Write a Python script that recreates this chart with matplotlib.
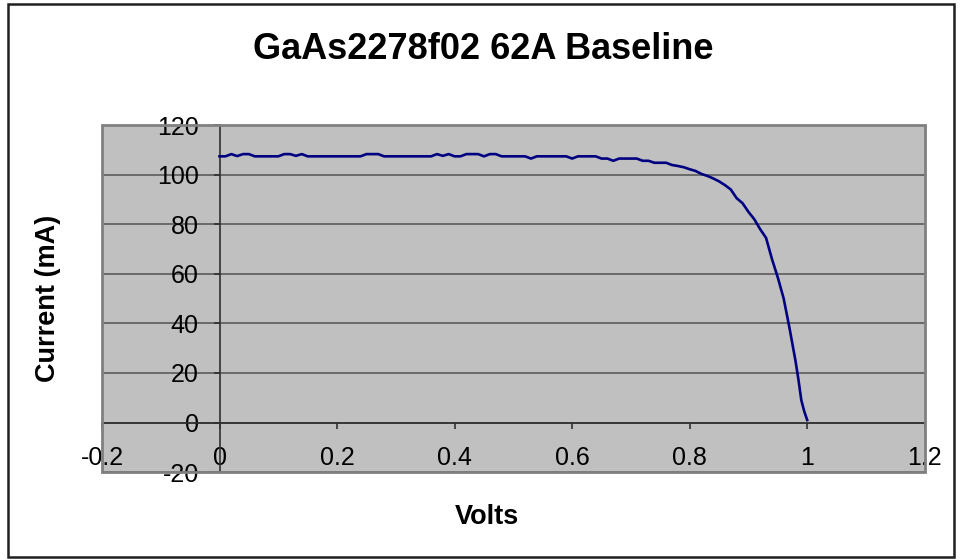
import matplotlib
matplotlib.use("Agg")
import matplotlib.pyplot as plt
from matplotlib.patches import Rectangle

plt.rcParams['font.family'] = ['Liberation Sans', 'DejaVu Sans']

title = "GaAs2278f02 62A Baseline"
x_label = "Volts"
y_label = "Current (mA)"

volts = [0.00, 0.01, 0.02, 0.03, 0.04, 0.05, 0.06, 0.07, 0.08, 0.09,
         0.10, 0.11, 0.12, 0.13, 0.14, 0.15, 0.16, 0.17, 0.18, 0.19,
         0.20, 0.21, 0.22, 0.23, 0.24, 0.25, 0.26, 0.27, 0.28, 0.29,
         0.30, 0.31, 0.32, 0.33, 0.34, 0.35, 0.36, 0.37, 0.38, 0.39,
         0.40, 0.41, 0.42, 0.43, 0.44, 0.45, 0.46, 0.47, 0.48, 0.49,
         0.50, 0.51, 0.52, 0.53, 0.54, 0.55, 0.56, 0.57, 0.58, 0.59,
         0.60, 0.61, 0.62, 0.63, 0.64, 0.65, 0.66, 0.67, 0.68, 0.69,
         0.70, 0.71, 0.72, 0.73, 0.74, 0.75, 0.76, 0.77, 0.78, 0.79,
         0.80, 0.81, 0.82, 0.83, 0.84, 0.85, 0.86, 0.87, 0.88, 0.89,
         0.90, 0.91, 0.92, 0.93, 0.94, 0.95, 0.96, 0.97, 0.98, 0.985,
         0.99, 0.995, 1.00]
current = [107.4, 107.4, 108.3, 107.5, 108.3, 108.3, 107.4, 107.4, 107.4, 107.4,
           107.4, 108.3, 108.3, 107.6, 108.3, 107.4, 107.4, 107.4, 107.4, 107.4,
           107.4, 107.4, 107.4, 107.4, 107.4, 108.3, 108.3, 108.3, 107.4, 107.4,
           107.4, 107.4, 107.4, 107.4, 107.4, 107.4, 107.4, 108.3, 107.6, 108.3,
           107.4, 107.4, 108.3, 108.3, 108.3, 107.4, 108.3, 108.3, 107.4, 107.4,
           107.4, 107.4, 107.4, 106.5, 107.4, 107.4, 107.4, 107.4, 107.4, 107.4,
           106.5, 107.4, 107.4, 107.4, 107.4, 106.5, 106.5, 105.6, 106.5, 106.5,
           106.5, 106.5, 105.6, 105.6, 104.8, 104.8, 104.8, 103.9, 103.5, 103.0,
           102.2, 101.5, 100.3, 99.5, 98.5, 97.3, 95.8, 94.0, 90.5, 88.5,
           85.0, 82.0, 78.0, 74.5, 66.0, 58.5, 50.0, 38.0, 25.0, 17.5,
           9.0, 4.5, 1.0]

x_ticks = [-0.2, 0, 0.2, 0.4, 0.6, 0.8, 1, 1.2]
x_tick_labels = ["-0.2", "0", "0.2", "0.4", "0.6", "0.8", "1", "1.2"]
y_ticks = [-20, 0, 20, 40, 60, 80, 100, 120]
y_tick_labels = ["-20", "0", "20", "40", "60", "80", "100", "120"]

fig = plt.figure(figsize=(9.6, 5.6), dpi=100, facecolor='white')
ax = fig.add_axes([0.10625, 0.157, 0.857, 0.6196])
ax.set_facecolor('#c0c0c0')
ax.set_xlim(-0.2, 1.2)
ax.set_ylim(-20, 120)

# horizontal gridlines
for yv in y_ticks:
    ax.axhline(yv, color='#5a5a5a', lw=1.2, zorder=1)

ax.plot(volts, current, color='#000080', lw=1.9, zorder=3)

# axes crossing at zero
for s in ['top', 'right']:
    ax.spines[s].set_visible(False)
ax.spines['left'].set_position(('data', 0))
ax.spines['bottom'].set_position(('data', 0))
ax.spines['left'].set_color('#303030')
ax.spines['bottom'].set_color('#303030')
ax.spines['left'].set_linewidth(1.2)
ax.spines['bottom'].set_linewidth(1.2)
ax.spines['left'].set_zorder(2)
ax.spines['bottom'].set_zorder(2)

ax.set_xticks(x_ticks)
ax.set_xticklabels(x_tick_labels)
ax.set_yticks(y_ticks)
ax.set_yticklabels(y_tick_labels)
ax.tick_params(axis='x', direction='out', length=4, width=1.2, pad=13,
               labelsize=18, color='#303030')
ax.tick_params(axis='y', direction='out', length=4, width=1.2, pad=11,
               labelsize=18, color='#303030')

# plot-area frame
ax.add_patch(Rectangle((0, 0), 1, 1, transform=ax.transAxes, fill=False,
                       edgecolor='#808080', lw=2, zorder=4, clip_on=False))

fig.text(0.503, 0.912, title, ha='center', va='center', fontsize=26,
         fontweight='bold')
fig.text(0.507, 0.077, x_label, ha='center', va='center', fontsize=19.5,
         fontweight='bold')
fig.text(0.05, 0.468, y_label, ha='center', va='center', fontsize=19.5,
         fontweight='bold', rotation=90)

# outer chart border
fig.add_artist(Rectangle((0.008, 0.006), 0.986, 0.986, transform=fig.transFigure,
                         fill=False, edgecolor='#202020', lw=1.8))

fig.savefig('out.png', dpi=100, facecolor='white')
